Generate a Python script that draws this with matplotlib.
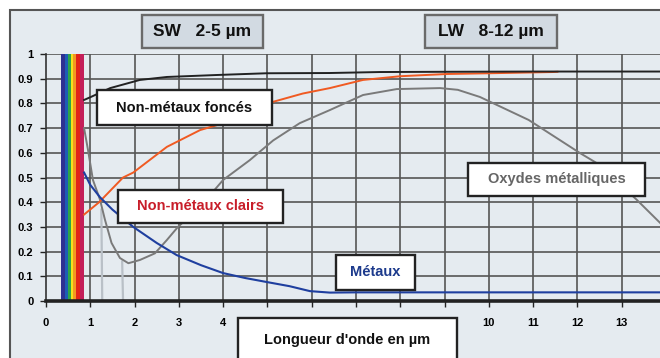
import numpy as np
import matplotlib
matplotlib.use("Agg")
import matplotlib.pyplot as plt
from matplotlib.patches import Rectangle

plt.rcParams['font.family'] = ['Liberation Sans', 'DejaVu Sans']
plt.rcParams['font.weight'] = 'bold'

# ---------------- data (longueur d'onde en um, emissivite) ----------------
x_foncés = [0.86, 1.0, 1.45, 2.12, 2.73, 3.86, 4.98, 6.4, 7.54, 9.0, 11.0, 13.87]
y_foncés = [0.814, 0.825, 0.862, 0.895, 0.907, 0.915, 0.922, 0.923, 0.927, 0.928, 0.929, 0.929]

x_clairs = [0.86, 1.2, 1.74, 1.97, 2.73, 3.48, 3.86, 4.5, 5.12, 5.8, 6.41, 7.16, 8.0, 9.05, 10.0, 11.44, 11.55]
y_clairs = [0.35, 0.40, 0.50, 0.52, 0.624, 0.692, 0.712, 0.76, 0.806, 0.84, 0.862, 0.895, 0.91, 0.919, 0.922, 0.927, 0.928]

x_metaux = [0.86, 1.0, 1.22, 1.5, 1.97, 2.5, 2.95, 3.5, 4.0, 4.5, 4.98, 5.5, 5.96, 6.41, 7.0, 13.87]
y_metaux = [0.52, 0.47, 0.42, 0.37, 0.30, 0.235, 0.186, 0.145, 0.113, 0.093, 0.077, 0.06, 0.04, 0.034, 0.035, 0.035]

x_oxydes = [0.86, 0.95, 1.06, 1.22, 1.33, 1.48, 1.67, 1.86, 2.12, 2.46, 2.73, 2.98, 3.47, 4.0,
            4.6, 5.13, 5.73, 6.41, 7.16, 7.92, 8.9, 9.3, 9.8, 10.9, 12.05, 12.44, 13.34, 13.87]
y_oxydes = [0.70, 0.61, 0.49, 0.41, 0.33, 0.235, 0.174, 0.153, 0.166, 0.193, 0.247, 0.30, 0.38, 0.49,
            0.57, 0.65, 0.72, 0.773, 0.834, 0.858, 0.862, 0.855, 0.826, 0.733, 0.60, 0.558, 0.41, 0.316]

# traits clairs parasites pres du minimum
x_trait1 = [1.25, 1.27]
y_trait1 = [0.37, 0.0]
x_trait2 = [1.72, 1.74]
y_trait2 = [0.16, 0.0]

# bandes du spectre visible
spectre_bords = [0.35, 0.43, 0.50, 0.56, 0.62, 0.68, 0.76, 0.85]
spectre_couleurs = ['#2e3192', '#1d5cb6', '#2ea44a', '#f5e01c', '#f29a20', '#e2231a', '#c41f5a']

xticks = list(range(0, 14))
yticks = [round(v * 0.1, 1) for v in range(0, 11)]
ytick_labels = ['0'] + ['%.1f' % v for v in yticks[1:-1]] + ['1']

W, H = 660, 358
fig = plt.figure(figsize=(W / 100, H / 100), dpi=100, facecolor='white')

# fond encadre
bg = fig.add_axes([0, 0, 1, 1], zorder=0)
bg.set_xlim(0, W)
bg.set_ylim(H, 0)
bg.axis('off')
bg.add_patch(Rectangle((10, 10), W, H, facecolor='#e5ebf0', edgecolor='#555555', lw=1.5))

# ---------------- graphique principal ----------------
ax = fig.add_axes([46 / W, (H - 301) / H, (W - 46) / W, 247 / H], zorder=1)
ax.set_facecolor('none')
ax.set_xlim(0, (W - 46) / 44.28)
ax.set_ylim(0, 1)

for v in xticks[1:]:
    ax.axvline(v, color='#555555', lw=1.2, zorder=1)
for v in yticks[1:]:
    ax.axhline(v, color='#555555', lw=1.2, zorder=1)

for i in range(len(spectre_couleurs)):
    ax.axvspan(spectre_bords[i], spectre_bords[i + 1], color=spectre_couleurs[i], lw=0, zorder=2)

ax.plot(x_trait1, y_trait1, color='#b9c0c7', lw=1.6, zorder=2)
ax.plot(x_trait2, y_trait2, color='#b9c0c7', lw=1.6, zorder=2)
ax.plot(x_oxydes, y_oxydes, color='#7a7a7a', lw=1.4, zorder=3)
ax.plot(x_clairs, y_clairs, color='#f05a22', lw=1.4, zorder=3)
ax.plot(x_foncés, y_foncés, color='#222222', lw=1.4, zorder=3)
ax.plot(x_metaux, y_metaux, color='#1f3f9f', lw=1.5, zorder=3)

ax.spines['right'].set_visible(False)
ax.spines['top'].set_visible(False)
ax.spines['left'].set_color('#333333')
ax.spines['left'].set_linewidth(1.2)
ax.spines['bottom'].set_color('#222222')
ax.spines['bottom'].set_linewidth(2.6)

ax.set_xticks(xticks)
ax.set_xticklabels([str(v) for v in xticks])
ax.set_yticks(yticks)
ax.set_yticklabels(ytick_labels)
ax.tick_params(axis='both', direction='out', length=4, width=1, color='#222222',
               labelsize=8, pad=5)
ax.tick_params(axis='x', pad=8)
for lab in ax.get_xticklabels() + ax.get_yticklabels():
    lab.set_fontweight('bold')

# ---------------- etiquettes encadrees ----------------
ov = fig.add_axes([0, 0, 1, 1], zorder=2)
ov.set_xlim(0, W)
ov.set_ylim(H, 0)
ov.axis('off')


def boite(x0, y0, x1, y1, texte, couleur, taille, fond='white', bord='#222222'):
    ov.add_patch(Rectangle((x0, y0), x1 - x0, y1 - y0, facecolor=fond, edgecolor=bord, lw=1.7))
    ov.text((x0 + x1) / 2, (y0 + y1) / 2, texte, color=couleur, fontsize=taille,
            fontweight='bold', ha='center', va='center')


boite(142, 15, 263, 48, 'SW   2-5 µm', '#111111', 12.5, fond='#d2dae2', bord='#6a6a6a')
boite(425, 15, 557, 48, 'LW   8-12 µm', '#111111', 12.5, fond='#d2dae2', bord='#6a6a6a')
boite(97, 90, 272, 125, 'Non-métaux foncés', '#111111', 10.5)
boite(118, 190, 283, 223, 'Non-métaux clairs', '#c81e2a', 10.5)
boite(468, 163, 645, 196, 'Oxydes métalliques', '#666666', 10.5)
boite(336, 255, 415, 290, 'Métaux', '#1c3a8c', 10.5)
boite(238, 318, 457, 362, "Longueur d'onde en µm", '#111111', 10.5)

fig.savefig('out.png', dpi=100, facecolor='white')
